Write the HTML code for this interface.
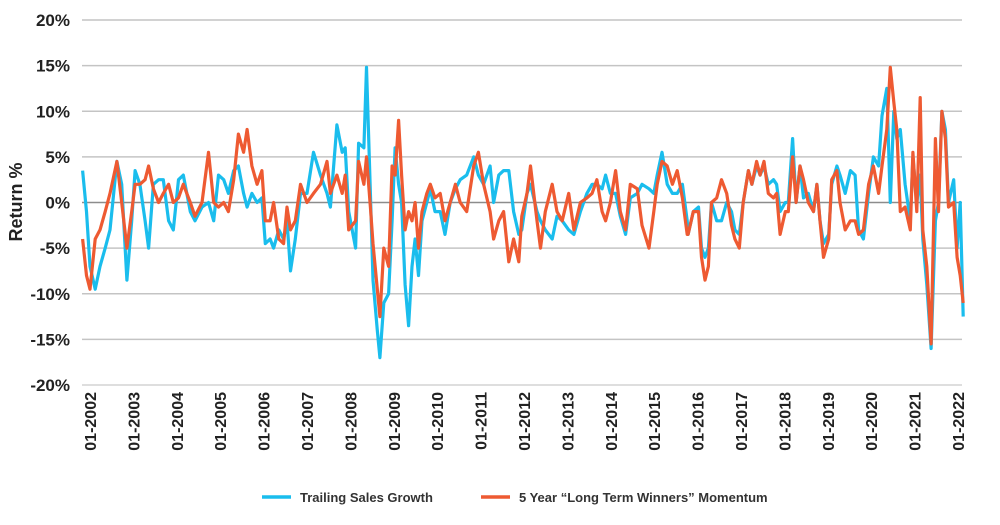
<!DOCTYPE html>
<html><head><meta charset="utf-8"><style>
html,body{margin:0;padding:0;background:#fff;}
svg{display:block;font-family:"Liberation Sans",sans-serif;}
</style></head><body>
<svg id="chart" width="1000" height="525" viewBox="0 0 1000 525">
<g id="grid"></g><g id="ylabels"></g><g id="xlabels"></g><g id="series"></g>
<text x="22" y="202" transform="rotate(-90 22 202)" text-anchor="middle" font-size="18" font-weight="bold" fill="#222">Return %</text>
<g>
<line x1="262" y1="497" x2="291" y2="497" stroke="#1ABDED" stroke-width="3.5"/>
<text x="300" y="502" font-size="13" font-weight="bold" fill="#333">Trailing Sales Growth</text>
<line x1="481" y1="497" x2="510" y2="497" stroke="#EE5A32" stroke-width="3.5"/>
<text x="519" y="502" font-size="13" font-weight="bold" fill="#333">5 Year “Long Term Winners” Momentum</text>
</g>
</svg>
<script>
const dates=[2001.83,2001.92,2002.00,2002.12,2002.23,2002.35,2002.46,2002.62,2002.73,2002.85,2002.96,2003.04,2003.15,2003.27,2003.35,2003.46,2003.58,2003.69,2003.81,2003.92,2004.04,2004.15,2004.31,2004.42,2004.58,2004.73,2004.85,2004.96,2005.08,2005.19,2005.31,2005.42,2005.54,2005.62,2005.73,2005.85,2005.96,2006.04,2006.15,2006.23,2006.35,2006.46,2006.54,2006.62,2006.73,2006.85,2007.00,2007.15,2007.31,2007.46,2007.54,2007.69,2007.81,2007.88,2007.96,2008.12,2008.19,2008.31,2008.37,2008.46,2008.52,2008.62,2008.68,2008.77,2008.88,2008.96,
2009.03,2009.11,2009.18,2009.26,2009.34,2009.42,2009.49,2009.57,2009.65,2009.76,2009.84,2009.95,2010.07,2010.18,2010.30,2010.42,2010.53,2010.68,2010.84,2010.95,2011.07,2011.22,2011.30,2011.42,2011.53,2011.65,2011.76,2011.88,2011.95,2012.07,2012.15,2012.30,2012.38,2012.49,2012.65,2012.76,2012.88,2013.03,2013.15,2013.30,2013.45,2013.57,2013.68,2013.80,2013.88,2013.99,2014.11,2014.22,2014.34,2014.45,2014.61,2014.72,2014.88,2014.99,2015.07,2015.18,2015.30,2015.42,2015.53,2015.65,2015.76,
2015.78,2015.90,2016.02,2016.09,2016.17,2016.25,2016.32,2016.44,2016.55,2016.67,2016.78,2016.86,2016.96,2017.05,2017.17,2017.25,2017.36,2017.44,2017.53,2017.63,2017.75,2017.82,2017.90,2018.02,2018.09,2018.19,2018.27,2018.36,2018.44,2018.55,2018.67,2018.75,2018.82,2018.90,2019.02,2019.09,2019.21,2019.28,2019.40,2019.52,2019.63,2019.71,2019.82,2019.94,2020.05,2020.17,2020.25,2020.36,2020.44,2020.52,2020.59,2020.67,2020.78,2020.90,2020.96,2021.05,2021.13,2021.19,2021.28,2021.38,2021.48,2021.55,2021.63,2021.71,2021.78,2021.90,2021.98,2022.05,2022.12];
const salesGrowth=[3.5,-1,-7,-9.5,-7,-5,-3,4.5,2,-8.5,-2,3.5,2,-2,-5,2,2.5,2.5,-2,-3,2.5,3,-1,-2,-0.5,0,-2,3,2.5,1,3.5,4,1,-0.5,1,0,0.5,-4.5,-4,-5,-3,-4,-2,-7.5,-4,1,1,5.5,3,1,-0.5,8.5,5.5,6,-1,-5,6.5,6,14.8,1,-8.5,-14,-17,-11,-10,-2,
6,2,0,-9,-13.5,-7,-4,-8,-2,0,1.5,-1,-1,-3.5,0,1.5,2.5,3,5,3,2,4,0,3,3.5,3.5,-1,-3.5,-3,1,2,-1,-2,-3,-4,-1.5,-2,-3,-3.5,-1,1,2,2,1.5,3,1,1,-1.5,-3.5,0.5,1,2,1.5,1,3,5.5,2,1,1,2,-2,
-3.5,-1,-0.5,-5,-6,-5,0,-2,-2,0,-1,-3,-3.5,0,3.5,2,4,3,4,2,2.5,2,-1,0,0,7,0,4,0.5,1,-1,2,-2,-4.5,-3.5,2,4,3,1,3.5,3,-3,-4,1,5,4,9.5,12.5,0,10,7,8,2,-2,5,0,3,-4,-9,-16,-2,0,10,8,0,2.5,-5,0,-12.5];
const momentum=[-4,-8,-9.5,-4,-3,-1,1,4.5,0,-5,-1,2,2,2.5,4,1.5,0,1,2,0,0.5,2,0,-1.5,0,5.5,0,-0.5,0,-1,2.5,7.5,5.5,8,4,2,3.5,-2,-2,0,-4,-4.5,-0.5,-3,-2,2,0,1,2,4.5,1,3,1,3,-3,-2,4.5,2,5,-0.5,-4.5,-9.5,-12.5,-5,-7,4,
3,9,3,-3,-1,-2,0,-5,-1,1,2,0.5,1,-2,0,2,0,-1,4,5.5,2,-1,-4,-2,-1,-6.5,-4,-6.5,-1.5,1,4,-2,-5,-1,2,-1,-2,1,-3,0,0.5,1,2.5,-1,-2,0,3.5,-1,-3,2,1.5,-2.5,-5,-1,2,4.5,4,2,3.5,0.5,-3.5,
-3.5,-1,-1,-6,-8.5,-7,0,0.5,2.5,1,-2.5,-4,-5,0,3.5,2,4.5,3,4.5,1,0.5,1,-3.5,-1,-1,5,0,4,2.5,0,-1,2,-2,-6,-4,2.5,3.5,0,-3,-2,-2,-3.5,-3,2,4,1,4,8,14.8,11,8,-1,-0.5,-3,5.5,-1,11.5,-3,-7,-15.5,7,-1,10,7,-0.5,0,-6,-8,-11];
const yTicks=[20,15,10,5,0,-5,-10,-15,-20];
const xTickYears=[2002,2003,2004,2005,2006,2007,2008,2009,2010,2011,2012,2013,2014,2015,2016,2017,2018,2019,2020,2021,2022];
const NS='http://www.w3.org/2000/svg';
const X0=82,X1=962;
function xScale(yr){return 90+(yr-2002)*43.4;}
function yScale(v){return 202.5-v*9.125;}
function mk(tag,attrs,parent){const e=document.createElementNS(NS,tag);for(const k in attrs)e.setAttribute(k,attrs[k]);parent.appendChild(e);return e;}
const grid=document.getElementById('grid'),yl=document.getElementById('ylabels'),xl=document.getElementById('xlabels'),ser=document.getElementById('series');
yTicks.forEach(v=>{
  const y=yScale(v);
  const l=mk('line',{x1:X0,x2:X1,y1:y,y2:y,stroke:v===0?'#8c8c8c':(v===-20?'#d4d4d4':'#c4c4c4'),'stroke-width':v===0?1.5:1.5},grid);
  
  
  const t=mk('text',{x:70,y:y+6,'text-anchor':'end','font-size':17,'font-weight':'bold',fill:'#222'},yl);
  t.textContent=v+'%';
  
  
});
xTickYears.forEach(yr=>{
  const x=xScale(yr)+6;
  const t=mk('text',{x:x,y:392,transform:'rotate(-90 '+x+' 392)','text-anchor':'end','font-size':16,'font-weight':'bold',fill:'#222'},xl);
  t.textContent='01-'+yr;
  
  
});
function draw(vals,color,name){
  const d=vals.map((v,i)=>(i?'L':'M')+xScale(dates[i]).toFixed(1)+' '+yScale(v).toFixed(1)).join(' ');
  const p=mk('path',{d:d,fill:'none',stroke:color,'stroke-width':3.2,'stroke-linejoin':'round'},ser);
  
  
}
draw(salesGrowth,'#1ABDED','series-trailing-sales-growth');
draw(momentum,'#EE5A32','series-long-term-winners-momentum');
</script>
</body></html>
